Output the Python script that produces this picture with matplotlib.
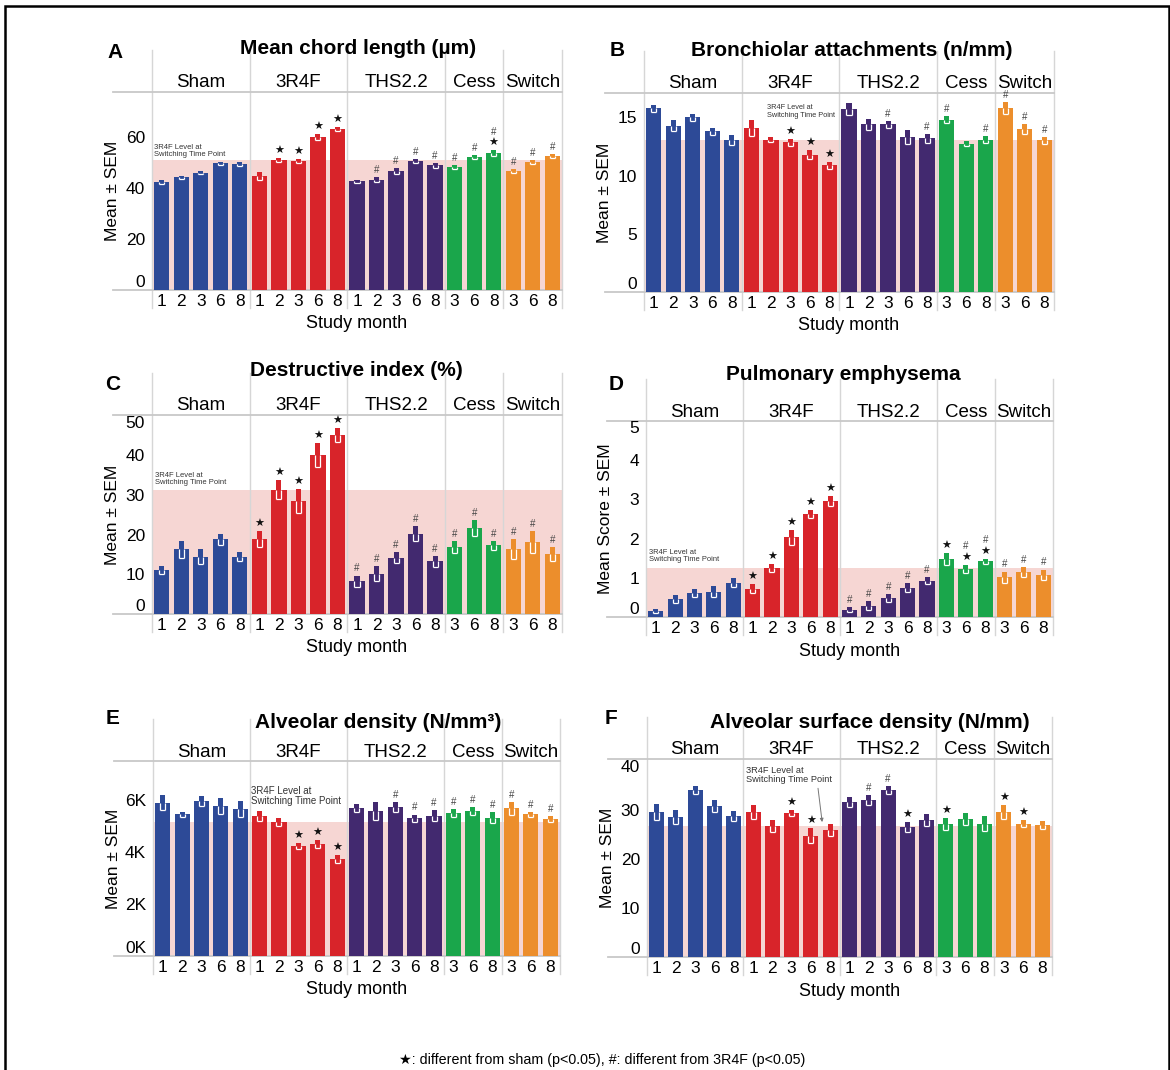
import matplotlib
matplotlib.use('Agg')
import matplotlib.pyplot as plt
from matplotlib.patches import Rectangle
import matplotlib.transforms as mtransforms

plt.rcParams['font.family'] = ['Liberation Sans', 'DejaVu Sans']

groups = ['Sham', '3R4F', 'THS2.2', 'Cess', 'Switch']
group_months = [[1, 2, 3, 6, 8], [1, 2, 3, 6, 8], [1, 2, 3, 6, 8], [3, 6, 8], [3, 6, 8]]
group_colors = ['#2d4a97', '#d8242a', '#42296f', '#1aa64b', '#ec8e2c']
band_color = '#f6d6d3'

# A: mean chord length
chord_mean = [42.4, 44.1, 46.0, 49.6, 49.3, 44.7, 50.9, 50.6, 60.0, 63.0,
              42.6, 43.3, 46.7, 50.5, 48.8, 48.3, 52.2, 53.7, 46.6, 50.0, 52.4]
chord_sem = [0.8, 0.6, 0.6, 0.7, 0.7, 1.5, 0.9, 0.8, 1.2, 0.8,
             0.6, 0.8, 1.1, 0.9, 0.9, 0.8, 0.8, 1.0, 0.9, 0.8, 0.8]
chord_star = [0, 0, 0, 0, 0, 0, 1, 1, 1, 1, 0, 0, 0, 0, 0, 0, 0, 1, 0, 0, 0]
chord_hash = [0, 0, 0, 0, 0, 0, 0, 0, 0, 0, 0, 1, 1, 1, 1, 1, 1, 1, 1, 1, 1]

# B: bronchiolar attachments
bronch_mean = [15.8, 14.3, 15.0, 13.8, 13.05, 14.1, 13.1, 12.85, 11.8, 10.9,
               15.7, 14.4, 14.4, 13.3, 13.2, 14.8, 12.75, 13.1, 15.8, 14.0, 13.05]
bronch_sem = [0.3, 0.5, 0.3, 0.3, 0.4, 0.7, 0.2, 0.3, 0.4, 0.3,
              0.5, 0.5, 0.3, 0.6, 0.4, 0.3, 0.2, 0.3, 0.5, 0.4, 0.3]
bronch_star = [0, 0, 0, 0, 0, 0, 0, 1, 1, 1, 0, 0, 0, 0, 0, 0, 0, 0, 0, 0, 0]
bronch_hash = [0, 0, 0, 0, 0, 0, 0, 0, 0, 0, 0, 0, 1, 0, 1, 1, 0, 1, 1, 1, 1]

# C: destructive index
destr_mean = [11.2, 16.3, 14.5, 18.8, 14.5, 19.0, 31.4, 28.6, 40.1, 45.1,
              8.3, 10.2, 14.2, 20.3, 13.3, 16.8, 21.8, 17.3, 16.5, 18.2, 15.2]
destr_sem = [1.0, 2.2, 1.8, 1.5, 1.2, 2.0, 2.5, 3.0, 3.0, 1.8,
             1.4, 2.0, 1.4, 1.8, 1.4, 1.5, 2.0, 1.2, 2.5, 2.7, 1.8]
destr_star = [0, 0, 0, 0, 0, 1, 1, 1, 1, 1, 0, 0, 0, 0, 0, 0, 0, 0, 0, 0, 0]
destr_hash = [0, 0, 0, 0, 0, 0, 0, 0, 0, 0, 1, 1, 1, 1, 1, 1, 1, 1, 1, 1, 1]

# D: pulmonary emphysema
emph_mean = [0.16, 0.45, 0.61, 0.65, 0.88, 0.72, 1.26, 2.03, 2.62, 2.96,
             0.19, 0.29, 0.49, 0.75, 0.93, 1.48, 1.22, 1.42, 1.01, 1.14, 1.08]
emph_sem = [0.05, 0.1, 0.1, 0.15, 0.12, 0.12, 0.1, 0.2, 0.1, 0.12,
            0.06, 0.12, 0.1, 0.12, 0.08, 0.15, 0.1, 0.07, 0.15, 0.13, 0.13]
emph_star = [0, 0, 0, 0, 0, 1, 1, 1, 1, 1, 0, 0, 0, 0, 0, 1, 1, 1, 0, 0, 0]
emph_hash = [0, 0, 0, 0, 0, 0, 0, 0, 0, 0, 1, 1, 1, 1, 1, 0, 1, 1, 1, 1, 1]

# E: alveolar density
dens_mean = [5900, 5450, 5970, 5770, 5650, 5380, 5140, 4230, 4310, 3720,
             5680, 5590, 5720, 5290, 5400, 5510, 5580, 5320, 5680, 5450, 5270]
dens_sem = [300, 100, 200, 300, 300, 200, 150, 120, 150, 150,
            150, 350, 200, 150, 200, 150, 150, 200, 250, 100, 120]
dens_star = [0, 0, 0, 0, 0, 0, 0, 1, 1, 1, 0, 0, 0, 0, 0, 0, 0, 0, 0, 0, 0]
dens_hash = [0, 0, 0, 0, 0, 0, 0, 0, 0, 0, 0, 0, 1, 1, 1, 1, 1, 1, 1, 1, 1]

# F: alveolar surface density
surf_mean = [29.5, 28.5, 34.0, 30.8, 28.7, 29.5, 26.7, 29.3, 24.7, 25.8,
             31.5, 31.9, 34.0, 26.4, 27.9, 27.1, 28.1, 27.1, 29.5, 27.1, 26.9]
surf_sem = [1.7, 1.4, 0.8, 1.2, 1.0, 1.5, 1.2, 0.7, 1.5, 1.2,
            1.0, 1.0, 0.8, 1.0, 1.3, 1.2, 1.3, 1.5, 1.5, 0.7, 0.8]
surf_star = [0, 0, 0, 0, 0, 0, 0, 1, 1, 0, 0, 0, 0, 1, 0, 1, 0, 0, 1, 1, 0]
surf_hash = [0, 0, 0, 0, 0, 0, 0, 0, 0, 0, 0, 1, 1, 0, 0, 0, 0, 0, 0, 0, 0]

W, H = 1170, 1070
fig = plt.figure(figsize=(W / 100, H / 100), dpi=100)


def fx(px):
    return px / W


def fy(py):
    return 1 - py / H


colors = []
xlabels = []
for g, ms in enumerate(group_months):
    colors += [group_colors[g]] * len(ms)
    xlabels += [str(m) for m in ms]
xpos = list(range(len(xlabels)))
bounds = [-0.5]
for ms in group_months:
    bounds.append(bounds[-1] + len(ms))


def panel(geom, letter, letter_xy, title, title_xy, ylabel, mean, sem, star, hsh,
          ymax, yticks, yticklabels, note_xy, note_ha, note_size, arrow_to=None):
    l, r, t, b = geom
    ax = fig.add_axes([fx(l), fy(b), fx(r) - fx(l), (b - t) / H])
    ph = b - t

    def ay(py):
        return (b - py) / ph

    level = mean[6]  # 3R4F at month 2 = switching time point
    ax.axhspan(0, level, color=band_color, zorder=0, lw=0)
    ax.bar(xpos, mean, width=0.78, color=colors, zorder=2)
    ew = 0.26
    for x, m, s, c in zip(xpos, mean, sem, colors):
        ax.bar(x, s, bottom=m, width=ew, color=c, zorder=3)
        ax.vlines([x - ew / 2, x + ew / 2], m - s, m, color='white', lw=0.9, zorder=4)
        ax.hlines(m - s, x - ew / 2, x + ew / 2, color='white', lw=0.9, zorder=4)
    for x, m, s, st, hs in zip(xpos, mean, sem, star, hsh):
        off = 1.5
        if st:
            ax.annotate('★', (x, m + s), xytext=(0, off), textcoords='offset points',
                        ha='center', va='bottom', fontsize=8, family=['DejaVu Sans'],
                        color='#111111', zorder=5)
            off += 8.5
        if hs:
            ax.annotate('#', (x, m + s), xytext=(0, off), textcoords='offset points',
                        ha='center', va='bottom', fontsize=7, color='#444444', zorder=5)

    ax.text(note_xy[0], note_xy[1], '3R4F Level at\nSwitching Time Point', ha=note_ha,
            va='bottom', fontsize=note_size, color='#333333', linespacing=1.05, zorder=5,
            multialignment='left')
    if arrow_to is not None:
        ax.annotate('', xy=arrow_to, xytext=(arrow_to[0] - 0.25, note_xy[1] - 0.3),
                    arrowprops=dict(arrowstyle='-|>', color='#777777', lw=0.7,
                                    mutation_scale=5), zorder=5)

    ax.set_xlim(-0.5, len(xpos) - 0.5)
    ax.set_ylim(0, ymax)
    ax.set_xticks(xpos)
    ax.set_xticklabels(xlabels, fontsize=12.5)
    ax.set_yticks(yticks)
    ylabs = ax.set_yticklabels(yticklabels, fontsize=12.5)
    ylabs[0].set_verticalalignment('bottom')
    if yticks[-1] >= ymax * 0.98:
        ylabs[-1].set_verticalalignment('top')
    ax.tick_params(length=0, pad=3)
    ax.tick_params(axis='y', pad=5)
    for sp in ax.spines.values():
        sp.set_visible(False)

    trans = mtransforms.blended_transform_factory(ax.transData, ax.transAxes)
    for bx in bounds:
        ax.plot([bx, bx], [ay(b + 18), ay(t - 42)], transform=trans, color='#d6d6d6',
                lw=1.0, clip_on=False, zorder=1)
    xl = -39 / (r - l)
    ax.plot([xl, 1], [0, 0], transform=ax.transAxes, color='#c8c8c8', lw=1.3,
            clip_on=False, zorder=1)
    ax.plot([xl, 1], [1, 1], transform=ax.transAxes, color='#c8c8c8', lw=1.3,
            clip_on=False, zorder=1)
    for g, name in enumerate(groups):
        ax.text((bounds[g] + bounds[g + 1]) / 2, ay(t - 9), name, transform=trans,
                ha='center', va='center', fontsize=13.5)
    ax.text(0.5, ay(b + 34), 'Study month', transform=ax.transAxes, ha='center',
            va='center', fontsize=13)
    fig.text(fx(l - 40), fy((t + b) / 2), ylabel, rotation=90, ha='center', va='center',
             fontsize=12.5)
    fig.text(fx(title_xy[0]), fy(title_xy[1]), title, ha='center', va='center',
             fontsize=15, fontweight='bold')
    fig.text(fx(letter_xy[0]), fy(letter_xy[1]), letter, ha='center', va='center',
             fontsize=15, fontweight='bold')
    return ax


panel((152, 562, 92, 290), 'A', (115, 52), 'Mean chord length (µm)', (358, 48),
      'Mean ± SEM', chord_mean, chord_sem, chord_star, chord_hash,
      77.6, [0, 20, 40, 60], ['0', '20', '40', '60'], (-0.4, 51.6), 'left', 5.5)
panel((644, 1054, 93, 292), 'B', (617, 51), 'Bronchiolar attachments (n/mm)', (852, 50),
      'Mean ± SEM', bronch_mean, bronch_sem, bronch_star, bronch_hash,
      17.1, [0, 5, 10, 15], ['0', '5', '10', '15'], (9.3, 14.9), 'right', 5.3)
panel((152, 562, 415, 614), 'C', (113, 384), 'Destructive index (%)', (356, 371),
      'Mean ± SEM', destr_mean, destr_sem, destr_star, destr_hash,
      50.2, [0, 10, 20, 30, 40, 50], ['0', '10', '20', '30', '40', '50'],
      (-0.35, 32.2), 'left', 5.5)
panel((646, 1053, 421, 617), 'D', (616, 385), 'Pulmonary emphysema', (843, 375),
      'Mean Score ± SEM', emph_mean, emph_sem, emph_star, emph_hash,
      5.0, [0, 1, 2, 3, 4, 5], ['0', '1', '2', '3', '4', '5'], (-0.35, 1.37), 'left', 5.4)
panel((153, 560, 761, 956), 'E', (113, 718), 'Alveolar density (N/mm³)', (378, 723),
      'Mean ± SEM', dens_mean, dens_sem, dens_star, dens_hash,
      7500, [0, 2000, 4000, 6000], ['0K', '2K', '4K', '6K'], (4.55, 5760), 'left', 7)
panel((647, 1052, 759, 957), 'F', (611, 718), 'Alveolar surface density (N/mm)', (870, 723),
      'Mean ± SEM', surf_mean, surf_sem, surf_star, surf_hash,
      40.3, [0, 10, 20, 30, 40], ['0', '10', '20', '30', '40'], (4.65, 35.2), 'left', 6.7,
      arrow_to=(8.6, 26.9))

fig.text(fx(602), fy(1060),
         '★: different from sham (p<0.05), #: different from 3R4F (p<0.05)',
         ha='center', va='center', fontsize=10.3,
         family=['Liberation Sans', 'DejaVu Sans'])

fig.patches.append(Rectangle((fx(5), fy(1080)), fx(1169) - fx(5), fy(6) - fy(1080),
                             fill=False, lw=1.8, edgecolor='black',
                             transform=fig.transFigure))

fig.savefig('out.png', dpi=100)
